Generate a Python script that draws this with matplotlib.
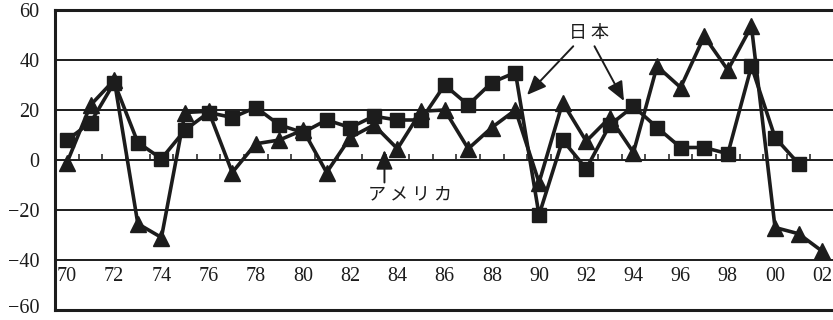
import numpy as np
import matplotlib
matplotlib.use("Agg")
import matplotlib.pyplot as plt
from matplotlib.transforms import ScaledTranslation

# ---- data ----
years = list(range(70, 103))
japan = [8, 15, 31, 7, 0.5, 12, 19, 17, 21, 14, 11, 16, 13, 17.5, 16, 16, 30, 22,
         31, 35, -22, 8, -3.5, 14, 21.5, 13, 5, 5, 2.5, 37.5, 9, -1.5, None]
america = [-1, 22, 32, -25.5, -31, 19, 19.5, -5, 6.5, 8, 12, -5, 9, 14, 4.5, 19.5,
           20, 4.5, 13, 20, -9, 23, 7.5, 17, 3, 37.5, 29, 49.5, 36, 53.5, -27, -29.5, -36.5]
xlabels = ["70", "72", "74", "76", "78", "80", "82", "84", "86", "88", "90",
           "92", "94", "96", "98", "00", "02"]
xlabel_pos = list(range(70, 103, 2))
yticks = [60, 40, 20, 0, -20, -40, -60]
ylabels = ["60", "40", "20", "0", "−20", "−40", "−60"]

INK = "#1c1c1c"
serif = ["Liberation Serif", "DejaVu Serif"]
jp = ["Noto Sans CJK JP", "DejaVu Sans"]

fig = plt.figure(figsize=(8.33, 3.2), dpi=100)
W, H = 833, 320
left_px, right_px, top_px, bot_px = 55, 850, 10, 310
ax = fig.add_axes([left_px / W, 1 - bot_px / H, (right_px - left_px) / W, (bot_px - top_px) / H])
ax.set_ylim(-60, 60)
x0 = 69.49
ax.set_xlim(x0, x0 + (right_px - left_px) / 23.6)

for s in ["left", "top", "bottom"]:
    ax.spines[s].set_linewidth(2.2)
    ax.spines[s].set_color(INK)
ax.spines["right"].set_visible(False)

# grid lines
for g in [40, 20, 0, -20, -40]:
    ax.axhline(g, color=INK, lw=1.4, zorder=1)

# small ticks above zero line
ax.vlines(np.arange(70.5, 102.0, 1.0), 0, 2.4, color=INK, lw=1.1, zorder=1)

ax.set_xticks([])
ax.set_yticks(yticks)
ax.set_yticklabels(ylabels, fontfamily=serif, fontsize=14.5, color=INK)
ax.tick_params(axis="y", length=0, pad=11)
# nudge the bottom label up a little so it stays inside the figure
lab_bottom = ax.get_yticklabels()[-1]
lab_bottom.set_transform(lab_bottom.get_transform() + ScaledTranslation(0, 3 / 72, fig.dpi_scale_trans))

# x labels inside the plot
for p, lab in zip(xlabel_pos, xlabels):
    ax.text(p, -46.5, lab, ha="center", va="center", fontfamily=serif,
            fontsize=14.5, color=INK, zorder=3)

jx = [y for y, v in zip(years, japan) if v is not None]
jy = [v for v in japan if v is not None]
ax.plot(jx, jy, color=INK, lw=2.6, marker="s", markersize=9.5, zorder=4, clip_on=False)
ax.plot(years, america, color=INK, lw=2.6, marker="^", markersize=12, zorder=5, clip_on=False)

# annotations
ax.text(92.1, 50.8, "日 本", ha="center", va="center", fontfamily=jp, fontsize=13, color=INK)
aprops = dict(arrowstyle="-|>,head_length=0.65,head_width=0.28", mutation_scale=18,
              color=INK, lw=1.4, shrinkA=0, shrinkB=0)
ax.annotate("", xy=(89.49, 26.0), xytext=(91.45, 45.5), arrowprops=aprops, zorder=6)
ax.annotate("", xy=(93.6, 23.6), xytext=(92.35, 45.5), arrowprops=aprops, zorder=6)

ax.text(84.55, -13.8, "ア メ リ カ", ha="center", va="center", fontfamily=jp, fontsize=13, color=INK)
ax.annotate("", xy=(83.45, 4.0), xytext=(83.45, -9.0), arrowprops=aprops, zorder=6)

fig.savefig("out.png", dpi=100)
